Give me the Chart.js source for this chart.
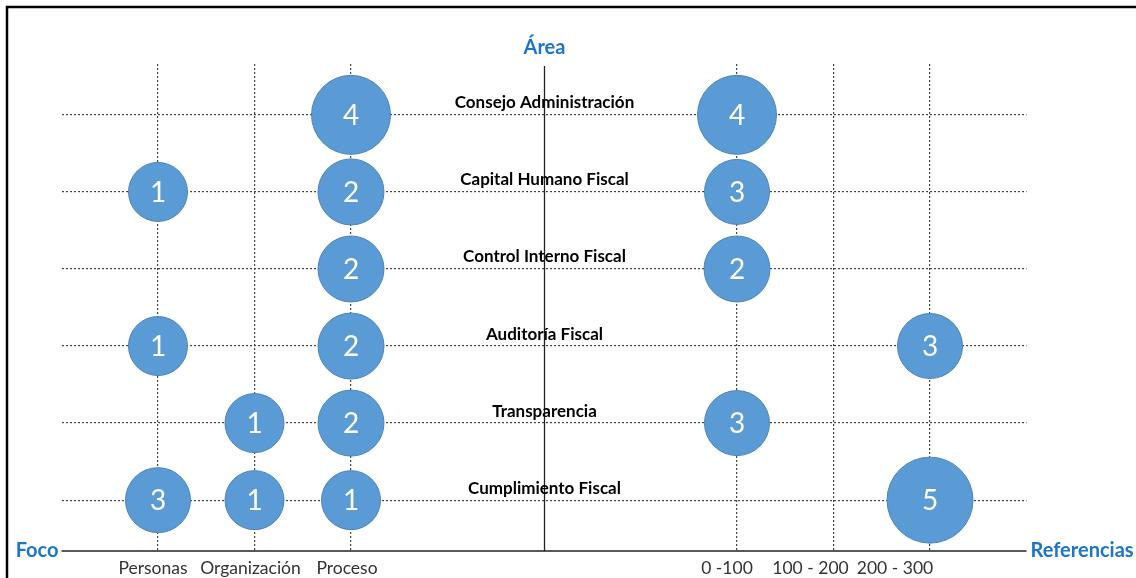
<!DOCTYPE html>
<html>
<head>
<meta charset="utf-8">
<script src="https://cdn.jsdelivr.net/npm/chart.js@4"></script>
<style>
  html, body { margin: 0; padding: 0; background: #fff; }
</style>
</head>
<body>
<canvas id="myChart" width="1136" height="578"></canvas>
<script>
// rows, top to bottom
const areas = [
    "Consejo Administración", "Capital Humano Fiscal", "Control Interno Fiscal",
    "Auditoría Fiscal", "Transparencia", "Cumplimiento Fiscal"]

// left block (Foco) and right block (Referencias)
const focoLabels = ["Personas", "Organización", "Proceso"]
const refLabels = ["0 -100", "100 - 200", "200 - 300"]

// counts per area, null = no bubble
const personas     = [null, 1, null, 1, null, 3]
const organizacion = [null, null, null, null, 1, 1]
const proceso      = [4, 2, 2, 2, 2, 1]
const ref0_100     = [4, 3, 2, null, 3, null]
const ref100_200   = [null, null, null, null, null, null]
const ref200_300   = [null, null, null, 3, null, 5]

const columns = [personas, organizacion, proceso, ref0_100, ref100_200, ref200_300]
const colLabels = focoLabels.concat(refLabels)

// layout helpers (not data)
const colSlot = [0, 1, 2, 6, 7, 8]
const centerSlot = 4
const labelShift = [-5, -4, -4, -10, -23, -35]
const radiusFor = { 1: 29.5, 2: 33, 3: 32.5, 4: 39.5, 5: 43 }
const BLUE = '#1B75CF'
const FONT = 'Lato, "Open Sans", sans-serif'

const points = []
columns.forEach((col, c) => {
    col.forEach((v, r) => {
        if (v !== null) points.push({ x: colSlot[c], y: areas.length - r, v: v })
    })
})

const extras = {
    id: 'extras',
    beforeDraw(chart) {
        const { ctx } = chart
        ctx.save()
        ctx.fillStyle = '#fff'
        ctx.fillRect(0, 0, chart.width, chart.height)
        // frame
        ctx.strokeStyle = '#000'
        ctx.lineWidth = 2.5
        ctx.beginPath()
        ctx.moveTo(7, chart.height)
        ctx.lineTo(7, 7)
        ctx.lineTo(chart.width, 7)
        ctx.stroke()
        ctx.restore()
    },
    afterDatasetsDraw(chart) {
        const { ctx, chartArea, scales } = chart
        const x = scales.x, y = scales.y
        ctx.save()
        // center line and bottom axis
        ctx.strokeStyle = '#222'
        ctx.lineWidth = 1.3
        const cx = Math.round(x.getPixelForValue(centerSlot)) + 0.5
        ctx.beginPath()
        ctx.moveTo(cx, chartArea.top + 2)
        ctx.lineTo(cx, chartArea.bottom)
        ctx.stroke()
        ctx.lineWidth = 1.6
        ctx.beginPath()
        ctx.moveTo(chartArea.left, chartArea.bottom)
        ctx.lineTo(chartArea.right, chartArea.bottom)
        ctx.stroke()

        // row labels
        ctx.fillStyle = '#000'
        ctx.font = 'bold 17px ' + FONT
        ctx.textAlign = 'center'
        ctx.textBaseline = 'middle'
        areas.forEach((a, i) => {
            ctx.fillText(a, cx, y.getPixelForValue(areas.length - i) - 12)
        })

        // column labels
        ctx.fillStyle = '#333'
        ctx.font = '17.5px ' + FONT
        colLabels.forEach((l, i) => {
            ctx.fillText(l, x.getPixelForValue(colSlot[i]) + labelShift[i], chartArea.bottom + 17)
        })

        // axis names
        ctx.fillStyle = BLUE
        ctx.font = 'bold 20px ' + FONT
        ctx.fillText('Área', cx, 48)
        ctx.textAlign = 'right'
        ctx.fillText('Foco', chartArea.left - 3, chartArea.bottom)
        ctx.textAlign = 'left'
        ctx.fillText('Referencias', chartArea.right + 4, chartArea.bottom)

        // bubble counts
        ctx.fillStyle = '#fff'
        ctx.font = '28px ' + FONT
        ctx.textAlign = 'center'
        const meta = chart.getDatasetMeta(0)
        meta.data.forEach((el, i) => {
            ctx.fillText(String(points[i].v), el.x, el.y + 1)
        })
        ctx.restore()
    }
}

const config = {
    type: 'bubble',
    data: {
        datasets: [{
            data: points,
            backgroundColor: '#5B9BD5',
            borderColor: '#4A85BD',
            borderWidth: 1,
            radius: (c) => c.raw ? radiusFor[c.raw.v] : 0
        }]
    },
    options: {
        responsive: false,
        animation: false,
        events: [],
        layout: { autoPadding: false, padding: { left: 61.5, right: 109.5, top: 64, bottom: 27 } },
        plugins: { legend: { display: false }, tooltip: { enabled: false } },
        scales: {
            x: {
                type: 'linear', min: -1, max: 9,
                afterBuildTicks: (s) => { s.ticks = colSlot.map(v => ({ value: v })) },
                afterFit: (s) => { s.height = 0 },
                ticks: { display: false },
                grid: { color: '#444', lineWidth: 1.2, drawTicks: false },
                border: { display: false, dash: [2, 2] }
            },
            y: {
                type: 'linear', min: 0.34, max: 6.66,
                afterBuildTicks: (s) => { s.ticks = areas.map((a, i) => ({ value: i + 1 })) },
                afterFit: (s) => { s.width = 0 },
                ticks: { display: false },
                grid: { color: '#444', lineWidth: 1.2, drawTicks: false },
                border: { display: false, dash: [2, 2] }
            }
        }
    },
    plugins: [extras]
};

const myChart = new Chart(
    document.getElementById('myChart'),
    config
);
</script>
</body>
</html>
